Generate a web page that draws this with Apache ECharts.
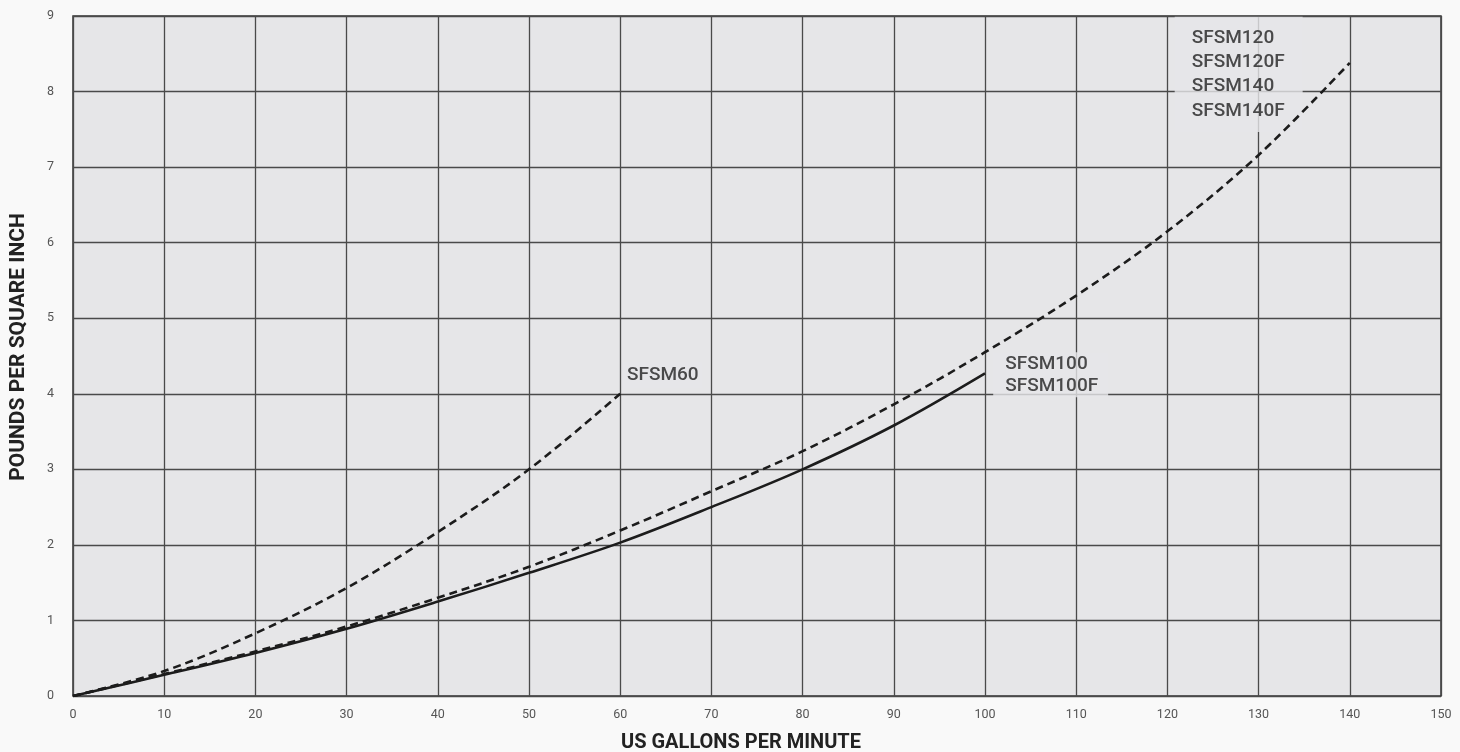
<!DOCTYPE html>
<html>
<head>
<meta charset="utf-8">
<script src="https://cdn.jsdelivr.net/npm/echarts@6/dist/echarts.min.js"></script>
<style>
html,body{margin:0;padding:0;background:#f9f9f9;}
#chart{width:1460px;height:752px;}
</style>
</head>
<body>
<div id="chart"></div>
<script>
// GPM values (x) and pressure drop (psi) values per model
const gpm60 = [0, 10, 20, 30, 40, 50, 60];
const psi60 = [0, 0.33, 0.83, 1.43, 2.17, 3.0, 4.0];

const gpm100 = [0, 10, 20, 30, 40, 50, 60, 70, 80, 90, 100];
const psi100 = [0, 0.28, 0.57, 0.89, 1.25, 1.63, 2.03, 2.5, 3.0, 3.58, 4.27];

const gpm120 = [0, 10, 20, 30, 40, 50, 60, 70, 80, 90, 100, 110, 120, 130, 140];
const psi120 = [0, 0.29, 0.59, 0.92, 1.30, 1.71, 2.19, 2.71, 3.24, 3.86, 4.55, 5.30, 6.15, 7.16, 8.38];

const xTicks = [0, 10, 20, 30, 40, 50, 60, 70, 80, 90, 100, 110, 120, 130, 140, 150];
const yTicks = [0, 1, 2, 3, 4, 5, 6, 7, 8, 9];

// label anchors (data coords of label box top-left) and texts
const labelTexts = ['SFSM60', 'SFSM100\nSFSM100F', 'SFSM120\nSFSM120F\nSFSM140\nSFSM140F'];
const labelX = [60.3, 100.9, 120.8];
const labelY = [4.42, 4.55, 8.99];

const zip = (xs, ys) => xs.map((x, i) => [x, ys[i]]);

const PLOT_BG = '#e6e6e8';
const FONT = 'Roboto';

const chart = echarts.init(document.getElementById('chart'));

const lineBase = {
  type: 'line',
  smooth: 0.35,
  showSymbol: false,
  symbol: 'none',
  z: 3,
  silent: true
};

const labelPads = [[2, 4, 2, 4], [1, 10, 0, 12], [9, 18, 9, 17]];
const labelLH = [22, 22, 24.3];

option = {
  backgroundColor: '#f9f9f9',
  animation: false,
  grid: {
    left: 73, right: 19, top: 16, bottom: 56,
    outerBoundsMode: 'none',
    containLabel: false,
    show: true,
    backgroundColor: PLOT_BG,
    borderColor: '#333',
    borderWidth: 1.5
  },
  xAxis: {
    type: 'value',
    min: 0, max: 150, interval: 10,
    name: 'US GALLONS PER MINUTE',
    nameLocation: 'middle',
    nameGap: 37,
    nameTextStyle: { fontFamily: FONT, fontWeight: 'bold', fontSize: 20, color: '#222', padding: [0, 32, 0, 0] },
    axisLine: { show: false },
    axisTick: { show: false },
    axisLabel: {
      fontFamily: FONT, fontSize: 12.5, color: '#555', margin: 12,
      formatter: v => xTicks.includes(v) ? String(v) : ''
    },
    splitLine: { show: true, lineStyle: { color: '#4a4a4a', width: 1.3 } }
  },
  yAxis: {
    type: 'value',
    min: 0, max: 9, interval: 1,
    name: 'POUNDS PER SQUARE INCH',
    nameLocation: 'middle',
    nameGap: 44,
    nameRotate: 90,
    nameTextStyle: { fontFamily: FONT, fontWeight: 'bold', fontSize: 21, color: '#222', padding: [0, 0, 0, 18] },
    axisLine: { show: false },
    axisTick: { show: false },
    axisLabel: {
      fontFamily: FONT, fontSize: 12.5, color: '#555', margin: 19,
      formatter: v => yTicks.includes(v) ? String(v) : ''
    },
    splitLine: { show: true, lineStyle: { color: '#4a4a4a', width: 1.3 } }
  },
  series: [
    Object.assign({}, lineBase, {
      name: 'SFSM60',
      data: zip(gpm60, psi60),
      lineStyle: { color: '#1c1c1c', width: 2.6, type: [8, 5] }
    }),
    Object.assign({}, lineBase, {
      name: 'SFSM100',
      data: zip(gpm100, psi100),
      lineStyle: { color: '#1c1c1c', width: 2.6, type: 'solid' }
    }),
    Object.assign({}, lineBase, {
      name: 'SFSM120',
      data: zip(gpm120, psi120),
      lineStyle: { color: '#1c1c1c', width: 2.6, type: [8, 5] }
    }),
    {
      type: 'scatter',
      z: 1,
      silent: true,
      symbolSize: 0,
      data: labelTexts.map((t, i) => ({
        value: [labelX[i], labelY[i]],
        label: {
          show: true,
          formatter: t,
          position: [0, 0],
          align: 'left',
          verticalAlign: 'top',
          fontFamily: FONT,
          fontSize: 19,
          fontWeight: 500,
          color: '#222',
          lineHeight: labelLH[i],
          backgroundColor: PLOT_BG,
          padding: labelPads[i]
        }
      }))
    }
  ]
};

chart.setOption(option);
</script>
</body>
</html>
